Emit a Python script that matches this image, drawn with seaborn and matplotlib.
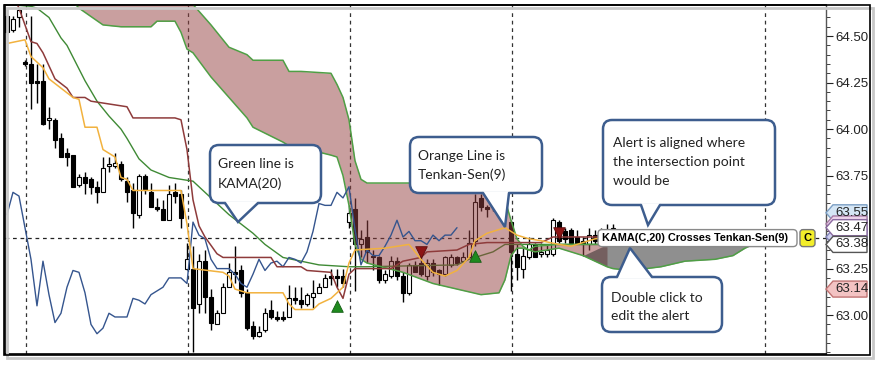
import numpy as np
import pandas as pd
import matplotlib
matplotlib.use("Agg")
import matplotlib.pyplot as plt
import seaborn as sns
from matplotlib.patches import FancyBboxPatch, Polygon, Rectangle
from matplotlib.lines import Line2D
from matplotlib.transforms import IdentityTransform
from matplotlib.ticker import MultipleLocator

# ---------------- data ----------------
opens = [64.61,64.53,64.60,64.36,64.35,64.26,64.26,64.05,64.05,63.95,
         63.87,63.86,63.70,63.74,63.73,63.69,63.66,63.80,63.80,63.81,
         63.72,63.67,63.54,63.75,63.66,63.58,63.57,63.51,63.66,63.65,
         63.25,63.25,63.06,63.29,63.10,62.95,63.01,63.15,63.23,63.24,
         63.12,62.94,62.89,62.92,63.03,62.99,62.99,62.99,63.09,63.08,
         63.06,63.10,63.12,63.15,63.21,63.21,63.21,63.50,63.57,63.38,
         63.42,63.32,63.31,63.19,63.21,63.29,63.21,63.12,63.27,63.28,
         63.21,63.28,63.24,63.22,63.27,63.31,63.29,63.31,63.40,63.63,
         63.58,63.58,63.66,63.63,63.50,63.33,63.25,63.31,63.38,63.33,
         63.33,63.33,63.50,63.45,63.46,63.42,63.40,63.38,63.43,63.40,
         63.43,63.43]
highs = [64.62,64.61,64.65,64.37,64.61,64.35,64.35,64.12,64.06,63.98,
         63.90,63.86,63.76,63.77,63.74,63.72,63.85,63.85,63.87,63.83,
         63.74,63.71,63.76,63.76,63.71,63.63,63.62,63.70,63.71,63.67,
         63.39,63.37,63.33,63.35,63.14,63.03,63.17,63.28,63.37,63.27,
         63.14,62.97,62.94,63.04,63.08,63.02,63.02,63.16,63.15,63.15,
         63.12,63.19,63.17,63.22,63.25,63.25,63.25,63.59,63.63,63.46,
         63.51,63.35,63.32,63.24,63.32,63.31,63.23,63.28,63.29,63.32,
         63.30,63.30,63.25,63.32,63.33,63.32,63.34,63.46,63.65,63.65,
         63.59,63.68,63.68,63.71,63.51,63.38,63.36,63.42,63.39,63.39,
         63.38,63.52,63.51,63.47,63.47,63.46,63.42,63.47,63.46,63.47,
         63.49,63.49]
lows = [64.51,64.52,64.55,64.34,64.11,64.14,64.02,64.00,63.90,63.85,
        63.80,63.69,63.69,63.65,63.65,63.60,63.66,63.77,63.79,63.72,
        63.61,63.47,63.52,63.65,63.58,63.56,63.51,63.51,63.60,63.47,
        63.24,62.80,63.01,63.01,62.92,62.95,63.01,63.15,63.17,63.10,
        62.92,62.87,62.88,62.91,62.98,62.97,62.97,62.99,63.06,63.04,
        63.05,63.04,63.12,63.15,63.16,63.15,63.15,63.47,63.13,63.31,
        63.28,63.24,63.17,63.17,63.20,63.19,63.07,63.11,63.23,63.21,
        63.19,63.21,63.16,63.21,63.26,63.27,63.28,63.31,63.37,63.56,
        63.53,63.56,63.60,63.61,63.13,63.19,63.20,63.30,63.31,63.31,
        63.31,63.32,63.39,63.39,63.39,63.39,63.32,63.35,63.38,63.39,
        63.41,63.42]
closes = [64.52,64.59,64.64,64.35,64.25,64.25,64.03,64.06,63.94,63.85,
          63.85,63.69,63.74,63.71,63.69,63.66,63.79,63.81,63.82,63.73,
          63.66,63.55,63.75,63.67,63.58,63.57,63.51,63.65,63.64,63.52,
          63.30,63.04,63.29,63.10,62.96,63.01,63.15,63.23,63.22,63.12,
          62.93,62.89,62.91,63.01,62.99,62.98,62.98,63.09,63.08,63.06,
          63.11,63.12,63.15,63.20,63.20,63.20,63.17,63.55,63.38,63.41,
          63.34,63.31,63.19,63.22,63.29,63.21,63.12,63.27,63.23,63.22,
          63.28,63.23,63.22,63.31,63.31,63.28,63.31,63.39,63.61,63.58,
          63.57,63.66,63.63,63.69,63.34,63.26,63.32,63.38,63.31,63.34,
          63.35,63.51,63.40,63.41,63.39,63.39,63.38,63.43,63.40,63.43,
          63.43,63.47]

# Chikou span (blue), one value per bar from the first bar
chikou_val = [63.54,63.66,63.64,63.47,63.30,63.05,63.29,63.11,62.96,63.01,
              63.15,63.24,63.23,63.12,62.95,62.90,62.93,63.01,62.99,62.99,
              62.99,63.09,63.08,63.06,63.11,63.13,63.15,63.20,63.20,63.20,
              63.17,63.50,63.43,63.41,63.30,63.25,63.25,63.25,63.22,63.17,
              63.15,63.22,63.30,63.24,63.28,63.29,63.26,63.31,63.30,63.28,
              63.34,63.45,63.60,63.59,63.59,63.66,63.63,63.69,63.46,63.27,
              63.35,63.32,63.32,63.37,63.43,63.51,63.42,63.45,63.40,63.40,
              63.38,63.43,63.40,63.43,63.43,63.47]

# Tenkan-Sen(9) (orange)
tenkan_idx = [0,3,4,6,7,11,12,13,15,16,18,19,20,21,29,30,31,36,37,38,40,46,47,48,51,52,54,56,57,58,
              63,67,69,71,73,75,77,78,80,83,85,87,89,92,94,96,98,101]
tenkan_val = [64.46,64.48,64.39,64.33,64.27,64.17,64.16,64.01,64.01,63.89,63.85,63.74,63.73,63.67,63.67,
              63.49,63.25,63.23,63.21,63.14,63.12,63.12,63.06,63.03,63.03,63.06,63.09,63.15,63.28,63.35,
              63.36,63.38,63.30,63.23,63.21,63.24,63.31,63.40,63.44,63.47,63.43,63.41,63.40,63.38,63.37,
              63.39,63.41,63.42]

# Kijun-Sen (dark red)
kijun_idx = [1,2,3,4,5,6,8,10,11,13,14,20,21,28,29,30,31,32,33,35,36,44,45,49,50,54,55,56,57,58,
             64,66,69,70,75,77,80,89,91,101]
kijun_val = [64.72,64.65,64.56,64.47,64.46,64.41,64.27,64.22,64.17,64.17,64.15,64.12,64.06,64.06,64.05,
             63.89,63.62,63.48,63.42,63.33,63.31,63.31,63.26,63.26,63.24,63.23,63.15,63.09,63.22,63.25,
             63.25,63.29,63.31,63.34,63.35,63.38,63.39,63.39,63.42,63.42]

# KAMA(20) (green)
kama_idx = [0,4,5,7,9,10,13,15,17,19,20,22,24,27,29,31,34,37,41,43,46,49,52,57,60,75,77,81,83,87,92,101]
kama_val = [64.67,64.66,64.65,64.60,64.49,64.45,64.26,64.15,64.07,64.00,63.95,63.84,63.78,63.74,63.73,
            63.72,63.63,63.54,63.44,63.38,63.31,63.29,63.27,63.26,63.26,63.27,63.30,63.34,63.38,63.38,
            63.38,63.38]

# Ichimoku cloud (Senkou spans, plotted 26 bars ahead)
cloud_idx = [10,12,16,19,24,25,28,29,30,31,34,37,40,41,46,47,49,54,55,56,57,58,59,60,66,71,75,79,82,83,
             84,85,86,87,88,92,96,100,101,104,109,113,118,121,123,125]
span_a = [64.72,64.65,64.56,64.55,64.55,64.58,64.58,64.52,64.43,64.41,64.28,64.17,64.06,64.01,63.93,
          63.91,63.90,63.86,63.85,63.75,63.59,63.38,63.30,63.28,63.23,63.17,63.14,63.11,63.12,63.19,
          63.32,63.36,63.36,63.35,63.34,63.36,63.32,63.26,63.25,63.24,63.26,63.29,63.30,63.32,63.36,63.39]
span_b = [65.02,64.99,64.94,64.88,64.83,64.80,64.76,64.74,64.71,64.67,64.56,64.44,64.40,64.37,64.37,
          64.31,64.31,64.30,64.24,64.17,64.05,63.83,63.73,63.71,63.71,63.71,63.71,63.71,63.71,63.62,
          63.51,63.41,63.37,63.35,63.37,63.38,63.38,63.38,63.38,63.38,63.39,63.39,63.39,63.39,63.39,63.39]

# signals
buy_idx, buy_val = [55, 78], [63.05, 63.32]
sell_idx, sell_val = [69, 92], [63.34, 63.44]

alert_level = 63.414
session_breaks = [3.1, 30.2, 57.1, 84.2, 126.3]

ytick_vals = [63.00, 63.25, 63.50, 63.75, 64.00, 64.25, 64.50]
ytick_labels = ["63.00", "63.25", "", "63.75", "64.00", "64.25", "64.50"]

# right-axis price tags (two of them sit underneath others and show no readable text)
tag_values = [63.55, 63.49, 63.42, 63.47, 63.38, 63.14]
tag_readable = [True, False, False, True, True, True]
tag_faces = ["#d5e6f5", "#ecd3ea", "#cfd0f0", "#ffffff", "#ffffff", "#f3c3c3"]
tag_edges = ["#7c9fc4", "#a57aa3", "#7f82b8", "#8a6aa0", "#555555", "#c07373"]

alert_text = "KAMA(C,20) Crosses Tenkan-Sen(9)"
notes = [
    ["Green line is", "KAMA(20)"],
    ["Orange Line is", "Tenkan-Sen(9)"],
    ["Alert is aligned where", "the intersection point", "would be"],
    ["Double click to", "edit the alert"],
]

# ---------------- drawing ----------------
sns.set_style("white")
plt.rcParams['font.family'] = ['Liberation Sans', 'DejaVu Sans']

W, H = 877, 366
ID = IdentityTransform()
fig = plt.figure(figsize=(W / 100, H / 100), dpi=100)
fig.patch.set_facecolor("white")
ax = fig.add_axes([5 / W, (H - 354) / H, (826 - 5) / W, (354 - 5) / H])
ax.set_xlim(-0.33, 136.5)
ax.set_ylim(62.791, 64.667)

# session separators and alert line
for xb in session_breaks:
    ax.axvline(xb, color="#333333", ls=(0, (3, 3)), lw=0.9, zorder=1.5)
ax.axhline(alert_level, color="#222222", ls=(0, (3, 3)), lw=0.9, zorder=1.6)

# candles
o, h, l, c = map(np.array, (opens, highs, lows, closes))
idx = np.arange(len(o))
up = c >= o
ax.vlines(idx, l, h, color="black", lw=1.0, zorder=2)
lo = np.minimum(o, c)
hh = np.maximum(np.abs(c - o), 0.008)
ax.bar(idx[up], hh[up], bottom=lo[up], width=0.78, color="white", edgecolor="black", lw=0.8, zorder=2.2)
ax.bar(idx[~up], hh[~up], bottom=lo[~up], width=0.78, color="black", edgecolor="black", lw=0.8, zorder=2.2)

# KAMA (under the cloud)
sns.lineplot(x=kama_idx, y=kama_val, ax=ax, color="#3f8a35", lw=1.0, zorder=2.5)

# cloud
ci = np.array(cloud_idx, dtype=float)
a = np.array(span_a)
b = np.array(span_b)
ax.fill_between(ci, a, b, where=ci <= 100, color=(0.58, 0.25, 0.25), alpha=0.5, lw=0, zorder=3, interpolate=True)
ax.fill_between(ci, a, b, where=ci >= 100, color=(0.13, 0.13, 0.13), alpha=0.5, lw=0, zorder=3, interpolate=True)
sns.lineplot(x=cloud_idx, y=span_a, ax=ax, color="#4f9f45", lw=1.1, zorder=4)
sns.lineplot(x=cloud_idx, y=span_b, ax=ax, color="#4f9f45", lw=1.1, zorder=4)

# other lines
sns.lineplot(x=np.arange(len(chikou_val)), y=chikou_val, ax=ax, color="#35558e", lw=1.0, zorder=4.2)
sns.lineplot(x=kijun_idx, y=kijun_val, ax=ax, color="#8e3b3b", lw=1.1, zorder=4.3)
sns.lineplot(x=tenkan_idx, y=tenkan_val, ax=ax, color="#f2b23e", lw=1.1, zorder=4.4)

# signal markers
ax.scatter(buy_idx, buy_val, marker="^", s=70, color="#1f8a1f", edgecolor="#145c14", lw=0.6, zorder=5)
ax.scatter(sell_idx, sell_val, marker="v", s=70, color="#8c1414", edgecolor="#5a0c0c", lw=0.6, zorder=5)

# axes styling
ax.set_xticks([])
ax.set_xlabel("")
ax.set_ylabel("")
ax.yaxis.tick_right()
ax.set_yticks(ytick_vals)
ax.set_yticklabels(ytick_labels)
ax.yaxis.set_minor_locator(MultipleLocator(0.05))
ax.tick_params(axis="y", which="both", left=False, right=True, labelleft=False, labelright=True,
               direction="out", colors="#222222")
ax.tick_params(axis="y", which="major", length=5, width=0.8, pad=2, labelsize=9.5)
ax.tick_params(axis="y", which="minor", length=3, width=0.6)
for s in ["left", "top", "bottom"]:
    ax.spines[s].set_color("black")
    ax.spines[s].set_linewidth(1.2)
ax.spines["right"].set_color("#555555")
ax.spines["right"].set_linewidth(1.0)

fig.canvas.draw()


def ypix(p):
    return ax.transData.transform((0, p))[1]


# price tags on the right axis
for val, show, fc, ec in zip(tag_values, tag_readable, tag_faces, tag_edges):
    yc = ypix(val)
    poly = Polygon([(826, yc), (833, yc + 8), (867, yc + 8), (867, yc - 8), (833, yc - 8)],
                   closed=True, transform=ID, fc=fc, ec=ec, lw=1.0, zorder=30)
    fig.add_artist(poly)
    if show:
        fig.text(835, yc, f"{val:.2f}", transform=ID, va="center", ha="left", fontsize=9.5,
                 color="#222222", zorder=31)

# alert label with "C" tag
yc = ypix(alert_level)
fig.add_artist(FancyBboxPatch((598, yc - 8.5), 199, 17, boxstyle="round,pad=0,rounding_size=4",
                              transform=ID, fc="white", ec="#8a8a8a", lw=1.0, zorder=25))
fig.text(602, yc, alert_text, transform=ID, va="center", ha="left", fontsize=7.8,
         fontweight="bold", color="black", zorder=26)
fig.add_artist(FancyBboxPatch((800, yc - 8.5), 15, 17, boxstyle="round,pad=0,rounding_size=3",
                              transform=ID, fc="#f3ee2a", ec="#777777", lw=1.0, zorder=25))
fig.text(807.5, yc, "C", transform=ID, va="center", ha="center", fontsize=8,
         fontweight="bold", color="black", zorder=26)

# speech bubbles
BORDER = "#3d5d8e"


def bubble(x0, y0, x1, y1, base_a, base_b, tip, lines, tx, line_y, down=True):
    fig.add_artist(FancyBboxPatch((x0, H - y1), x1 - x0, y1 - y0, boxstyle="round,pad=0,rounding_size=9",
                                  transform=ID, fc="white", ec=BORDER, lw=1.8, zorder=20))
    by = y1 if down else y0
    fig.add_artist(Polygon([(base_a, H - by), (tip[0], H - tip[1]), (base_b, H - by)], closed=True,
                           transform=ID, fc="white", ec="none", zorder=21))
    fig.add_artist(Line2D([base_a + 1.2, base_b - 1.2], [H - by, H - by], transform=ID,
                          color="white", lw=2.6, zorder=21.5))
    fig.add_artist(Line2D([base_a, tip[0], base_b], [H - by, H - tip[1], H - by], transform=ID,
                          color=BORDER, lw=1.8, zorder=22, solid_joinstyle="miter"))
    for s, ly in zip(lines, line_y):
        fig.text(tx, H - ly, s, transform=ID, va="center", ha="left", fontsize=10,
                 family=["Lato", "DejaVu Sans"], color="#222222", zorder=23)


bubble(210, 145, 321, 203, 225, 258, (238, 222), notes[0], 218, [164, 184])
bubble(410, 137, 542, 193, 483, 509, (505, 227), notes[1], 418, [156, 175])
bubble(603, 120, 775, 205, 641, 660, (648, 225), notes[2], 613, [143, 162, 181])
bubble(602, 277, 722, 332, 617, 652, (630, 248), notes[3], 611, [298, 316], down=False)

# outer frame with light shadow
fig.add_artist(Rectangle((7, H - 358), 866, 350, transform=ID, fc="none", ec="#c8c8c8", lw=2.0, zorder=39))
fig.add_artist(Rectangle((4, H - 355), 866, 350, transform=ID, fc="none", ec="black", lw=1.2, zorder=40))

fig.savefig("out.png", dpi=100)
